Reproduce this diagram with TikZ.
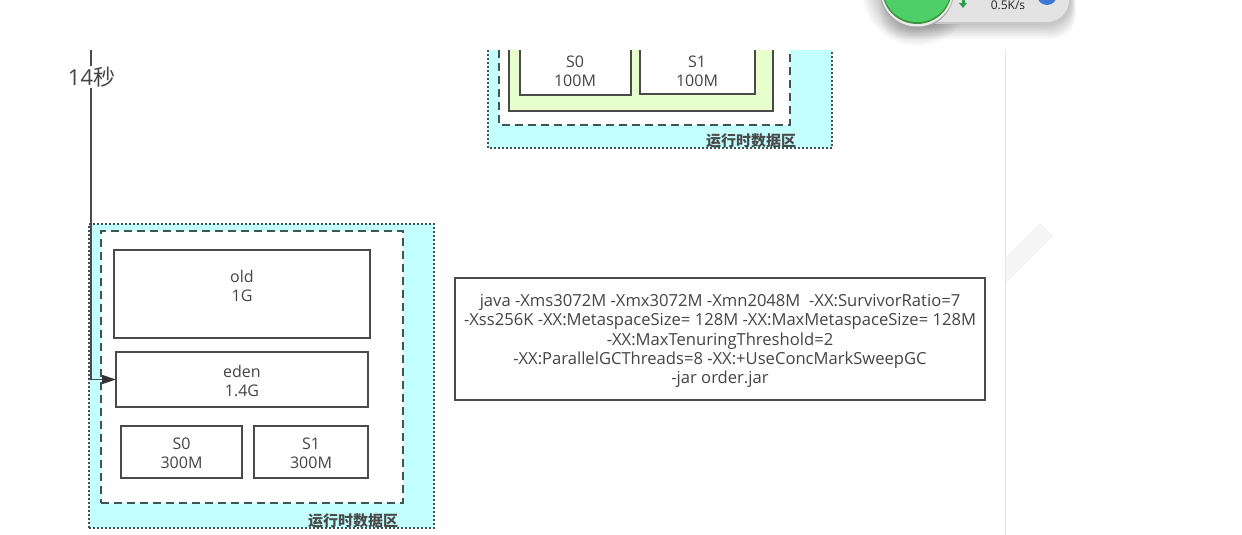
\documentclass[tikz,border=0pt]{standalone}
\usepackage{fontspec}
\usetikzlibrary{arrows.meta}
\setmainfont{Open Sans}
\newfontfamily\cjk{Noto Sans CJK SC}
\definecolor{lineC}{HTML}{4A4A4A}
\definecolor{dashC}{HTML}{3F5555}
\definecolor{cyanC}{HTML}{C4FFFF}
\definecolor{greenC}{HTML}{E6FFCC}
\definecolor{textC}{HTML}{444444}
\definecolor{wGreen}{HTML}{4FCF67}
\definecolor{wGreenD}{HTML}{2E9E4F}
\definecolor{wBlue}{HTML}{3C78D8}
\tikzset{
  x=1pt,y=-1pt,
  membox/.style={draw=lineC,line width=1.5pt,fill=white,inner sep=0pt,outer sep=0pt},
  runtime/.style={draw=dashC,dash pattern=on 1.6pt off 2.4pt,line width=1.5pt,fill=cyanC,inner sep=0pt,outer sep=0pt},
  dotline/.style={draw=dashC,dash pattern=on 1.6pt off 2.4pt,line width=1.5pt},
  heap/.style={draw=dashC,dash pattern=on 8pt off 5pt,line width=1.5pt,fill=white,inner sep=0pt,outer sep=0pt},
  zonelabel/.style={inner sep=0pt,text=lineC,font=\cjk\bfseries\fontsize{15}{16}\selectfont},
  labeltext/.style={inner sep=0pt,text=textC,align=center,font=\fontsize{16}{19}\selectfont},
  cmdtext/.style={inner sep=0pt,text=textC,align=center,font=\fontsize{16.6}{19.25}\selectfont},
  boxat/.style n args={4}{minimum width=#3-#1,minimum height=#4-#2,anchor=north west},
}
\begin{document}
\begin{tikzpicture}
\useasboundingbox (0,0) rectangle (1242,535);
\fill[white] (0,0) rectangle (1242,535);
% watermark and page edge
\fill[black!4] (1040,223) -- (1053,236) -- (1005,284) -- (1005,258) -- cycle;
\draw[black!10,line width=1pt] (1005.5,50) -- (1005.5,535);
% upper runtime area, cut off by the top of the screenshot
\fill[cyanC] (488,50) rectangle (832,148);
\draw[dotline] (488,50) -- (488,148) -- (832,148) -- (832,50);
\fill[white] (499,50) rectangle (790,125);
\draw[dashC,dash pattern=on 8pt off 5pt,line width=1.5pt] (499,50) -- (499,125) -- (790,125) -- (790,50);
\fill[greenC] (509,50) rectangle (773,111);
\draw[lineC,line width=1.5pt] (509,50) -- (509,111) -- (773,111) -- (773,50);
\fill[white] (520,50) rectangle (631,95);
\draw[lineC,line width=1.5pt] (520,50) -- (520,95) -- (631,95) -- (631,50);
\fill[white] (640,50) rectangle (755,94);
\draw[lineC,line width=1.5pt] (640,50) -- (640,94) -- (755,94) -- (755,50);
\node[labeltext] (topS0) at (575,71.5) {S0\\100M};
\node[labeltext] (topS1) at (697,71.5) {S1\\100M};
\node[zonelabel] (topZone) at (751,141) {运行时数据区};
% lower runtime area
\node[runtime,boxat={89}{224}{434}{528}] (rt) at (89,224) {};
\node[heap,boxat={101}{231}{403}{503}] (hp) at (101,231) {};
\node[membox,boxat={114}{250}{370}{338}] (old) at (114,250) {};
\node[labeltext] (oldT) at (242,285.5) {old\\1G};
\node[membox,boxat={116}{352}{368}{407}] (eden) at (116,352) {};
\node[labeltext] (edenT) at (242,381.5) {eden\\1.4G};
\node[membox,boxat={121}{426}{242}{478}] (s0) at (121,426) {};
\node[labeltext] (s0T) at (181.5,453.5) {S0\\300M};
\node[membox,boxat={254}{426}{368}{478}] (s1) at (254,426) {};
\node[labeltext] (s1T) at (311,453.5) {S1\\300M};
\node[zonelabel] (botZone) at (353,521) {运行时数据区};
% timeline
\coordinate (tstart) at (91,50);
\draw[lineC,line width=1.5pt,-{Triangle[length=14pt,width=9pt,color=black!80]}] (tstart) |- (eden.west);
\node[fill=white,inner sep=0.5pt,text=textC,font=\fontsize{22}{24}\selectfont] (t14) at (91.5,77) {14{\cjk 秒}};
% command box
\node[membox,boxat={455}{278}{985}{400}] (cmd) at (455,278) {};
\node[cmdtext] (cmdT) at (720,341) {java -Xms3072M -Xmx3072M -Xmn2048M\ \ -XX:SurvivorRatio=7\\-Xss256K -XX:MetaspaceSize= 128M -XX:MaxMetaspaceSize= 128M\\-XX:MaxTenuringThreshold=2\\-XX:ParallelGCThreads=8 -XX:+UseConcMarkSweepGC\\-jar order.jar};
% floating network widget
\foreach \g in {20,18,16,14,12,10,8,6,4,2}{
  \fill[black,opacity=0.022,rounded corners=24pt] (900-\g,-30) rectangle (1070+\g*0.3,23+\g*0.8);
  \fill[black,opacity=0.022] (917,-9) circle (35+\g);
}
\fill[black!22,rounded corners=22pt] (900,-30) rectangle (1070,24);
\fill[black!11,rounded corners=22pt] (900,-30) rectangle (1069,22);
\fill[black!35] (917,-9) circle (37);
\fill[black!8] (917,-10) circle (36.5);
\fill[green!45!black!75] (917,-11) circle (35);
\fill[wGreen] (917,-12) circle (34);
\fill[wGreenD] (961.5,0) rectangle (964.5,4);
\fill[wGreenD] (959,3) -- (967,3) -- (963,8) -- cycle;
\node[inner sep=0pt,text=black!85,font=\fontsize{12}{13}\selectfont] (rate) at (1008,5.5) {0.5K/s};
\fill[wBlue] (1047,-5) circle (10);
\end{tikzpicture}
\end{document}
